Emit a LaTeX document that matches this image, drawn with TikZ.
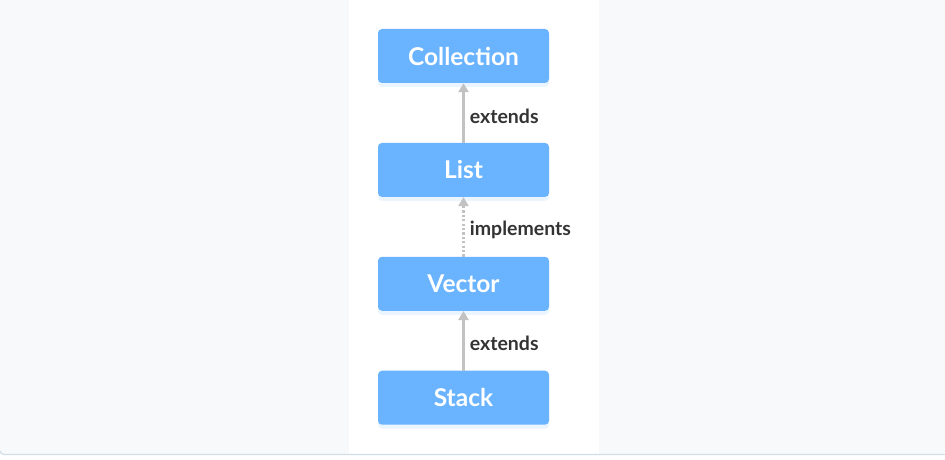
\documentclass[tikz,border=0pt]{standalone}
\usepackage{fontspec}
\setmainfont{Lato}
\usetikzlibrary{positioning,arrows.meta,shadows}

\definecolor{pagebg}{HTML}{F7F9FB}
\definecolor{boxblue}{HTML}{69B3FF}
\definecolor{linegray}{HTML}{C2C2C2}
\definecolor{labelgray}{HTML}{333333}
\definecolor{edgeline}{HTML}{D3DFE8}

\tikzset{
  classbox/.style={fill=boxblue,rounded corners=4pt,minimum width=171pt,minimum height=54pt,
    text=white,font=\fontsize{24.5}{28}\selectfont\bfseries,
    drop shadow={shadow xshift=0pt,shadow yshift=-4pt,fill=boxblue!25,opacity=0.5}},
  inherit/.style={draw=linegray,line width=2.2pt,-{Triangle[width=10pt,length=9pt]}},
  realize/.style={inherit,dash pattern=on 2.2pt off 2.2pt},
  relname/.style={text=labelgray,font=\fontsize{19.5}{23}\selectfont\bfseries,anchor=west,xshift=2pt,yshift=-3pt}
}

\begin{document}
\begin{tikzpicture}[x=1pt,y=1pt,node distance=59.5pt]
        \useasboundingbox (0,0) rectangle (945,459);
        % page and white panel
        \fill[pagebg,rounded corners=3pt] (0,4) rectangle (945,470);
        \fill[white] (349,5) rectangle (599,459);
        \draw[edgeline,line width=1.2pt] (0,8) to[out=-90,in=180] (4,4.6) -- (945,4.6);

        \node[classbox] (coll) at (463.5,403) {Collection};
        \node[classbox,below=of coll] (list) {List};
        \node[classbox,below=of list] (vec) {Vector};
        \node[classbox,below=of vec] (stack) {Stack};

        \draw[inherit] (list.north) -- node[relname] {extends} (coll.south);
        \draw[realize] (vec.north) -- node[relname] {implements} (list.south);
        \draw[inherit] (stack.north) -- node[relname] {extends} (vec.south);
    \end{tikzpicture}
\end{document}
